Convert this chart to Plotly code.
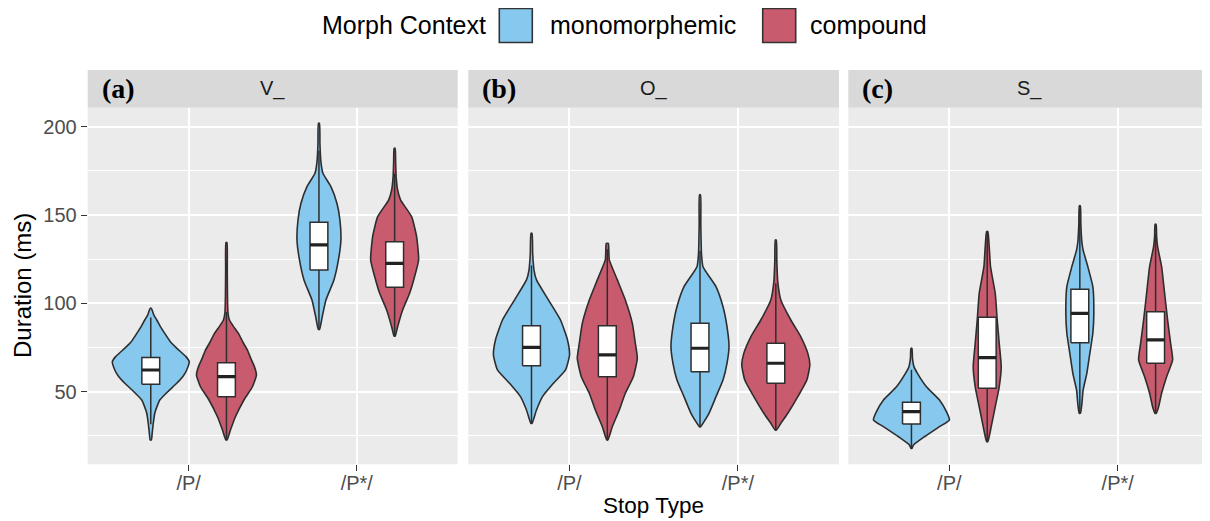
import plotly.graph_objects as go

# ---------------- data ----------------
PANELS = ["V_", "O_", "S_"]
PANEL_TAGS = ["(a)", "(b)", "(c)"]
CATEGORIES = ["/P/", "/P*/"]
CONTEXTS = ["monomorphemic", "compound"]
Y_TICKS = [50, 100, 150, 200]

# violin profiles: duration levels (ms) and density (relative half-width)
V_P_mono_y = [22.7, 27, 32, 37.8, 42, 45.3, 50, 54.8, 58.5, 62.3, 67, 70, 73.6, 78, 83, 87, 90.6, 93.5, 97.2]
V_P_mono_d = [0.6, 1.5, 2.5, 4, 6.5, 9, 17, 26, 32, 36, 38.5, 35, 28, 20, 14, 9.5, 6, 3, 0.6]
V_P_comp_y = [22.7, 28.3, 35.8, 45.3, 52.8, 59.5, 64.2, 68, 73.6, 78, 83, 87, 90.6, 95, 105, 120, 134.4]
V_P_comp_d = [0.6, 4, 9, 17.5, 26, 30, 28, 25, 21, 16.5, 12, 7, 3, 1.5, 1, 0.8, 0.5]
V_Ps_mono_y = [85.3, 92.5, 101.9, 113.3, 124.6, 135.9, 147.2, 156.7, 166.1, 173.7, 180, 190, 202]
V_Ps_mono_d = [0.6, 3.3, 7, 15, 19.5, 22, 21, 18, 12, 4, 2, 1, 0.5]
V_Ps_comp_y = [81.5, 86.8, 96.3, 105.7, 115.2, 124.6, 137.8, 149.1, 158.5, 164.2, 172, 180, 187.8]
V_Ps_comp_d = [0.6, 3, 8, 15, 20, 24, 22, 17, 6, 3, 1.5, 1, 0.5]

O_P_mono_y = [32.1, 39.6, 47.2, 54.8, 62.3, 70.8, 79.3, 90.6, 101.9, 113.3, 118.9, 128, 139.7]
O_P_mono_d = [0.6, 5, 11, 22, 34, 38, 36, 29, 17, 5, 2.5, 1.2, 0.5]
O_P_comp_y = [22.7, 30.2, 39.6, 49.1, 58.5, 68.9, 77.4, 88.7, 101.9, 113.3, 124.6, 130, 134]
O_P_comp_d = [0.6, 5, 12, 18, 26, 30, 28, 25, 18, 10, 2, 1.5, 1]
O_Ps_mono_y = [30.2, 37.8, 47.2, 56.6, 66.1, 75.5, 86.8, 98.1, 109.5, 120.8, 128, 145, 161.4]
O_Ps_mono_d = [0.6, 9, 16, 23, 27, 29, 27, 23, 16, 3, 1.5, 0.8, 0.5]
O_Ps_comp_y = [28.3, 32.1, 37.8, 47.2, 56.6, 65.1, 71.7, 81.1, 90.6, 101.9, 112, 124, 135.9]
O_Ps_comp_d = [0.6, 5, 12, 22, 31, 34, 32, 25, 15, 5, 2, 1, 0.5]

S_P_mono_y = [18, 19.8, 24.5, 30.2, 34, 38.7, 45.3, 52.8, 60.4, 64.2, 69, 74.6]
S_P_mono_d = [0.6, 2, 13, 28, 38, 35, 28, 15, 6, 2.5, 1, 0.5]
S_P_comp_y = [21.7, 30.2, 41.5, 52.8, 64.2, 77.4, 90.6, 105.7, 120.8, 132.1, 140.6]
S_P_comp_d = [0.6, 4, 8, 12, 14, 12, 10, 8, 3.3, 2, 0.6]
S_Ps_mono_y = [37.8, 43, 51, 60.4, 71.7, 83.1, 94.4, 109.5, 120.8, 130.2, 134.9, 145, 155.3]
S_Ps_mono_d = [0.6, 2, 3.3, 7, 10, 13, 14, 13, 8, 3.3, 2, 1, 0.5]
S_Ps_comp_y = [37.8, 41.5, 49.1, 58.5, 68, 77.4, 90.6, 105.7, 120.8, 132.1, 138, 144.8]
S_Ps_comp_d = [0.6, 3, 6, 11, 17, 15, 12, 9, 6, 2, 1, 0.5]

# order: panel -> category -> context
PROFILES = [
    (V_P_mono_y, V_P_mono_d), (V_P_comp_y, V_P_comp_d),
    (V_Ps_mono_y, V_Ps_mono_d), (V_Ps_comp_y, V_Ps_comp_d),
    (O_P_mono_y, O_P_mono_d), (O_P_comp_y, O_P_comp_d),
    (O_Ps_mono_y, O_Ps_mono_d), (O_Ps_comp_y, O_Ps_comp_d),
    (S_P_mono_y, S_P_mono_d), (S_P_comp_y, S_P_comp_d),
    (S_Ps_mono_y, S_Ps_mono_d), (S_Ps_comp_y, S_Ps_comp_d),
]

# box statistics, same order
Q1 = [54.2, 47.2, 118.9, 109.1, 64.7, 58.5, 61.3, 54.8, 31.7, 51.9, 77.7, 66.1]
MEDIAN = [62.3, 58.5, 133.1, 122.7, 75.1, 70.8, 74.6, 66.1, 38.7, 69.3, 94.4, 79.3]
Q3 = [69.3, 66.4, 145.9, 134.9, 87.4, 87.4, 88.7, 77.4, 44.0, 92.1, 108.0, 95.3]
WHISK_LO = [31.6, 22.7, 85.3, 81.5, 32.1, 22.7, 30.2, 28.3, 18.0, 21.7, 37.8, 37.8]
WHISK_HI = [92.0, 95.2, 186.4, 173.6, 121.5, 130.7, 129.8, 111.3, 62.5, 140.6, 153.5, 139.1]

# ---------------- style ----------------
FILL = {"monomorphemic": "#86C8EE", "compound": "#C95B6E"}
OUTLINE = "#2E2E2E"
DENSITY_TO_WIDTH = 1 / 168.4
DODGE = 0.225
BOX_HALF = 0.053
FONT = "Liberation Sans, Arial, Helvetica, sans-serif"

# the page body has an 8px margin; the figure is sized and positioned to compensate
PAGE_OFF = 8
W, H = 1210 - PAGE_OFF, 521 - PAGE_OFF
XD = [[87.7, 457.7], [468.3, 839.0], [848.3, 1210.0]]
XR = [[0.4, 2.6], [0.4, 2.6], [0.4, 2.548]]
PLOT_TOP, PLOT_BOT = 107.7, 464.3
STRIP_TOP = 70.0
YR = [8.9, 210.8]


def px_x(v):
    return (v - PAGE_OFF) / W


def px_y(v):
    return (H - (v - PAGE_OFF)) / H


fig = go.Figure()

idx = 0
for p, panel in enumerate(PANELS):
    xa = "x" if p == 0 else f"x{p + 1}"
    ya = "y" if p == 0 else f"y{p + 1}"
    for c, cat in enumerate(CATEGORIES):
        for m, ctx in enumerate(CONTEXTS):
            center = (c + 1) + (DODGE if m == 1 else -DODGE)
            ys, ds = PROFILES[idx]
            left = [center - d * DENSITY_TO_WIDTH for d in ds]
            right = [center + d * DENSITY_TO_WIDTH for d in ds]
            vx = left + right[::-1] + [left[0]]
            vy = list(ys) + list(ys)[::-1] + [ys[0]]
            fig.add_trace(go.Scatter(
                x=vx, y=vy, mode="lines", fill="toself", fillcolor=FILL[ctx],
                line=dict(color=OUTLINE, width=1.6, shape="spline", smoothing=0.5),
                xaxis=xa, yaxis=ya, showlegend=False, hoverinfo="skip"))
            # whisker
            fig.add_trace(go.Scatter(
                x=[center, center], y=[WHISK_LO[idx], WHISK_HI[idx]], mode="lines",
                line=dict(color=OUTLINE, width=1.5), xaxis=xa, yaxis=ya,
                showlegend=False, hoverinfo="skip"))
            # box
            bx = [center - BOX_HALF, center + BOX_HALF, center + BOX_HALF, center - BOX_HALF, center - BOX_HALF]
            by = [Q1[idx], Q1[idx], Q3[idx], Q3[idx], Q1[idx]]
            fig.add_trace(go.Scatter(
                x=bx, y=by, mode="lines", fill="toself", fillcolor="white",
                line=dict(color=OUTLINE, width=1.5), xaxis=xa, yaxis=ya,
                showlegend=False, hoverinfo="skip"))
            # median
            fig.add_trace(go.Scatter(
                x=[center - BOX_HALF, center + BOX_HALF], y=[MEDIAN[idx], MEDIAN[idx]],
                mode="lines", line=dict(color="#222222", width=3.2), xaxis=xa, yaxis=ya,
                showlegend=False, hoverinfo="skip"))
            idx += 1

layout = dict(
    width=W, height=H,
    margin=dict(l=0, r=0, t=0, b=0, pad=0),
    paper_bgcolor="white", plot_bgcolor="#EBEBEB",
    font=dict(family=FONT, color="#1a1a1a"),
    showlegend=False,
)

for p in range(3):
    xname = "xaxis" if p == 0 else f"xaxis{p + 1}"
    yname = "yaxis" if p == 0 else f"yaxis{p + 1}"
    ya = "y" if p == 0 else f"y{p + 1}"
    xa = "x" if p == 0 else f"x{p + 1}"
    layout[xname] = dict(
        domain=[px_x(XD[p][0]), min(1.0, px_x(XD[p][1]))], range=XR[p], anchor=ya,
        tickmode="array", tickvals=[1, 2], ticktext=CATEGORIES,
        ticks="outside", ticklen=6, tickwidth=1.3, tickcolor="#333333",
        ticklabelstandoff=-5,
        tickfont=dict(size=20, color="#4D4D4D", family=FONT),
        showgrid=True, gridcolor="white", gridwidth=1.8,
        zeroline=False, showline=False, automargin=False, fixedrange=True,
    )
    layout[yname] = dict(
        domain=[px_y(PLOT_BOT), px_y(PLOT_TOP)], range=YR, anchor=xa,
        tickmode="array", tickvals=Y_TICKS,
        ticks="outside" if p == 0 else "", ticklen=6, tickwidth=1.3, tickcolor="#333333",
        showticklabels=(p == 0),
        tickfont=dict(size=20, color="#4D4D4D", family=FONT),
        showgrid=True, gridcolor="white", gridwidth=1.8,
        minor=dict(tickvals=[25, 75, 125, 175], showgrid=True, gridcolor="white", gridwidth=0.9, ticks=""),
        zeroline=False, showline=False, automargin=False, fixedrange=True,
    )

shapes = []
annotations = []
for p in range(3):
    shapes.append(dict(type="rect", xref="paper", yref="paper",
                       x0=px_x(XD[p][0]), x1=min(1.0, px_x(XD[p][1])),
                       y0=px_y(PLOT_TOP), y1=px_y(STRIP_TOP),
                       fillcolor="#D9D9D9", line=dict(width=0), layer="below"))
    mid_strip = px_y((PLOT_TOP + STRIP_TOP) / 2)
    annotations.append(dict(text=PANELS[p], xref="paper", yref="paper",
                            x=px_x((XD[p][0] + XD[p][1]) / 2), y=mid_strip,
                            xanchor="center", yanchor="middle", showarrow=False,
                            font=dict(size=20, color="#1A1A1A", family=FONT)))
    annotations.append(dict(text=f"<b>{PANEL_TAGS[p]}</b>", xref="paper", yref="paper",
                            x=px_x(XD[p][0] + 12), y=mid_strip,
                            xanchor="left", yanchor="middle", showarrow=False,
                            font=dict(size=28, color="black",
                                      family="Liberation Serif, Times New Roman, serif")))

# axis titles
annotations.append(dict(text="Duration (ms)", xref="paper", yref="paper",
                        x=px_x(22), y=px_y((PLOT_TOP + PLOT_BOT) / 2), textangle=-90,
                        xanchor="center", yanchor="middle", showarrow=False,
                        font=dict(size=24, color="black", family=FONT)))
annotations.append(dict(text="Stop Type", xref="paper", yref="paper",
                        x=px_x((XD[1][0] + XD[1][1]) / 2), y=px_y(505),
                        xanchor="center", yanchor="middle", showarrow=False,
                        font=dict(size=22.5, color="black", family=FONT)))

# legend (drawn manually)
LEG_Y = 25
annotations.append(dict(text="Morph Context", xref="paper", yref="paper",
                        x=px_x(320), y=px_y(LEG_Y), xanchor="left", yanchor="middle",
                        showarrow=False, font=dict(size=25, color="black", family=FONT)))
key_x = [499.3, 762.7]
label_x = [547.5, 807.5]
for m, ctx in enumerate(CONTEXTS):
    shapes.append(dict(type="rect", xref="paper", yref="paper",
                       x0=px_x(key_x[m]), x1=px_x(key_x[m] + 33),
                       y0=px_y(42.5), y1=px_y(8.5),
                       fillcolor=FILL[ctx], line=dict(color="#333333", width=1.6)))
    annotations.append(dict(text=ctx, xref="paper", yref="paper",
                            x=px_x(label_x[m]), y=px_y(LEG_Y), xanchor="left", yanchor="middle",
                            showarrow=False, font=dict(size=25, color="black", family=FONT)))

layout["shapes"] = shapes
layout["annotations"] = annotations
fig.update_layout(**layout)

fig.write_html("out.html")
